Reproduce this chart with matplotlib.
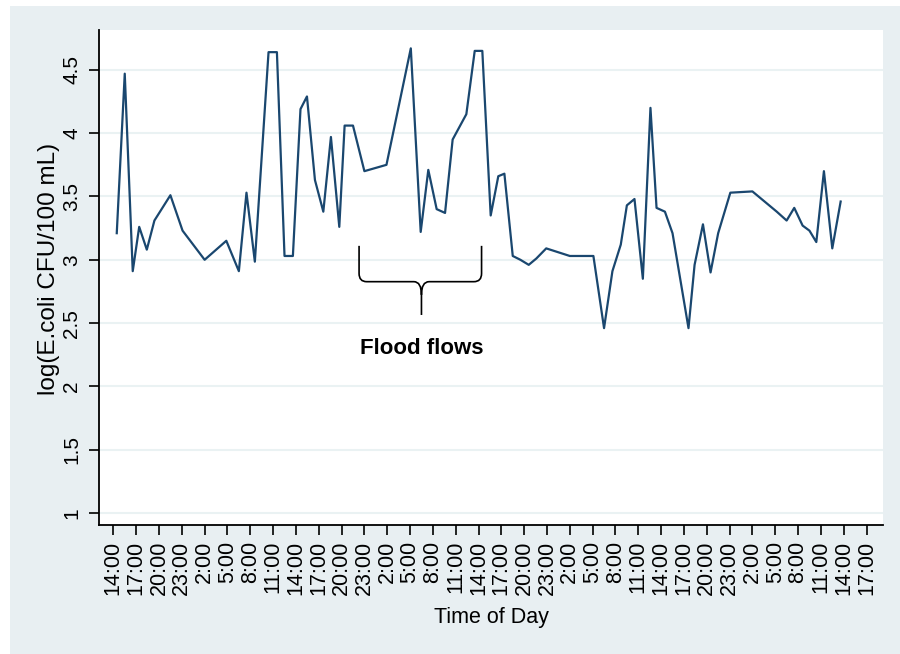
import matplotlib
matplotlib.use("Agg")
import matplotlib.pyplot as plt
from matplotlib.path import Path
from matplotlib.patches import PathPatch, Rectangle

plt.rcParams['font.family'] = ['Liberation Sans', 'DejaVu Sans']

# hours since 14:00 on day 1
hours = [0.45, 1.5, 2.55, 3.4, 4.4, 5.4, 7.5, 9.1, 12.0, 14.85,
         16.5, 17.5, 18.6, 20.4, 21.5, 22.5, 23.6, 24.6, 25.45, 26.5,
         27.6, 28.6, 29.7, 30.4, 31.5, 33.0, 35.9, 39.1, 40.4, 41.4,
         42.5, 43.6, 44.6, 46.4, 47.5, 48.5, 49.6, 50.6, 51.4, 52.5,
         53.5, 54.6, 55.6, 56.9, 60.0, 63.1, 64.5, 65.6, 66.7, 67.5,
         68.5, 69.6, 70.6, 71.4, 72.5, 73.5, 75.6, 76.4, 77.5, 78.5,
         79.5, 81.1, 84.0, 87.2, 88.5, 89.5, 90.6, 91.5, 92.4, 93.4,
         94.5, 95.6]
log_ecoli = [3.21, 4.47, 2.91, 3.26, 3.08, 3.31, 3.51, 3.23, 3.00, 3.15,
             2.91, 3.53, 2.985, 4.64, 4.64, 3.03, 3.03, 4.19, 4.29, 3.63,
             3.38, 3.97, 3.26, 4.06, 4.06, 3.70, 3.75, 4.67, 3.22, 3.71,
             3.40, 3.37, 3.95, 4.15, 4.65, 4.65, 3.35, 3.66, 3.68, 3.03,
             3.00, 2.96, 3.01, 3.09, 3.03, 3.03, 2.46, 2.91, 3.12, 3.43,
             3.48, 2.85, 4.20, 3.41, 3.38, 3.21, 2.46, 2.96, 3.28, 2.90,
             3.21, 3.53, 3.54, 3.38, 3.31, 3.41, 3.27, 3.23, 3.14, 3.70,
             3.09, 3.46]

tick_hours = [0, 3, 6, 9, 12, 15, 18, 21, 24, 27, 30, 33, 36, 39, 42, 45, 48,
              51, 54, 57, 60, 63, 66, 69, 72, 75, 78, 81, 84, 87, 90, 93, 96, 99]
tick_labels = ["14:00", "17:00", "20:00", "23:00", "2:00", "5:00", "8:00", "11:00",
               "14:00", "17:00", "20:00", "23:00", "2:00", "5:00", "8:00", "11:00",
               "14:00", "17:00", "20:00", "23:00", "2:00", "5:00", "8:00", "11:00",
               "14:00", "17:00", "20:00", "23:00", "2:00", "5:00", "8:00", "11:00",
               "14:00", "17:00"]
y_ticks = [1, 1.5, 2, 2.5, 3, 3.5, 4, 4.5]
y_tick_labels = ["1", "1.5", "2", "2.5", "3", "3.5", "4", "4.5"]

W, H = 900, 654
fig = plt.figure(figsize=(9, 6.54), dpi=100, facecolor='white')
bg = '#e8eff2'
fig.patches.append(Rectangle((10 / W, 0), 1 - 10 / W, 1 - 6 / H,
                             transform=fig.transFigure, facecolor=bg,
                             edgecolor='none', zorder=-10))

left, right, top, bottom = 98.5, 882.5, 30, 525
ax = fig.add_axes([left / W, 1 - bottom / H, (right - left) / W, (bottom - top) / H])
ax.set_facecolor('white')

ax.plot(hours, log_ecoli, color='#1a476f', lw=1.6, zorder=3)

ax.set_xlim(-1.95, 101.1)
ax.set_ylim(0.905, 4.815)

ax.set_yticks(y_ticks)
ax.set_yticklabels(y_tick_labels, rotation=90, va='center', fontsize=15)
ax.set_xticks(tick_hours)
ax.set_xticklabels(tick_labels, rotation=90, fontsize=15.5)

for yv in y_ticks:
    ax.axhline(yv, color='#eaf2f3', lw=1.5, zorder=1)

for s in ['top', 'right']:
    ax.spines[s].set_visible(False)
for s in ['left', 'bottom']:
    ax.spines[s].set_linewidth(1.3)
    ax.spines[s].set_color('black')
ax.tick_params(axis='both', direction='out', length=7.5, width=1.2, colors='black')
ax.tick_params(axis='x', pad=4)
ax.tick_params(axis='y', pad=5)

# curly brace annotation
xl, xm, xr = 32.3, 40.5, 48.4
yt, yh, yb = 3.11, 2.827, 2.564
dx, dy = 1.0, 0.065
verts = [(xl, yt), (xl, yh + dy), (xl, yh), (xl + dx, yh),
         (xm - dx, yh), (xm, yh), (xm, yh - 1.6 * dy), (xm, yb),
         (xm, yh - 1.6 * dy), (xm, yh), (xm + dx, yh),
         (xr - dx, yh), (xr, yh), (xr, yh + dy), (xr, yt)]
codes = [Path.MOVETO, Path.LINETO, Path.CURVE3, Path.CURVE3,
         Path.LINETO, Path.CURVE3, Path.CURVE3, Path.LINETO,
         Path.MOVETO, Path.CURVE3, Path.CURVE3,
         Path.LINETO, Path.CURVE3, Path.CURVE3, Path.LINETO]
ax.add_patch(PathPatch(Path(verts, codes), facecolor='none', edgecolor='black',
                       lw=1.2, zorder=4))
ax.text(xm, 2.30, "Flood flows", ha='center', va='center', fontsize=16,
        fontweight='bold', color='black')

fig.text(491.5 / W, 1 - 618 / H, "Time of Day", ha='center', va='center', fontsize=15.5)
fig.text(49 / W, 1 - 269 / H, "log(E.coli CFU/100 mL)", ha='center', va='center',
         rotation=90, fontsize=17.5)

fig.savefig("out.png", dpi=100, facecolor=fig.get_facecolor())
